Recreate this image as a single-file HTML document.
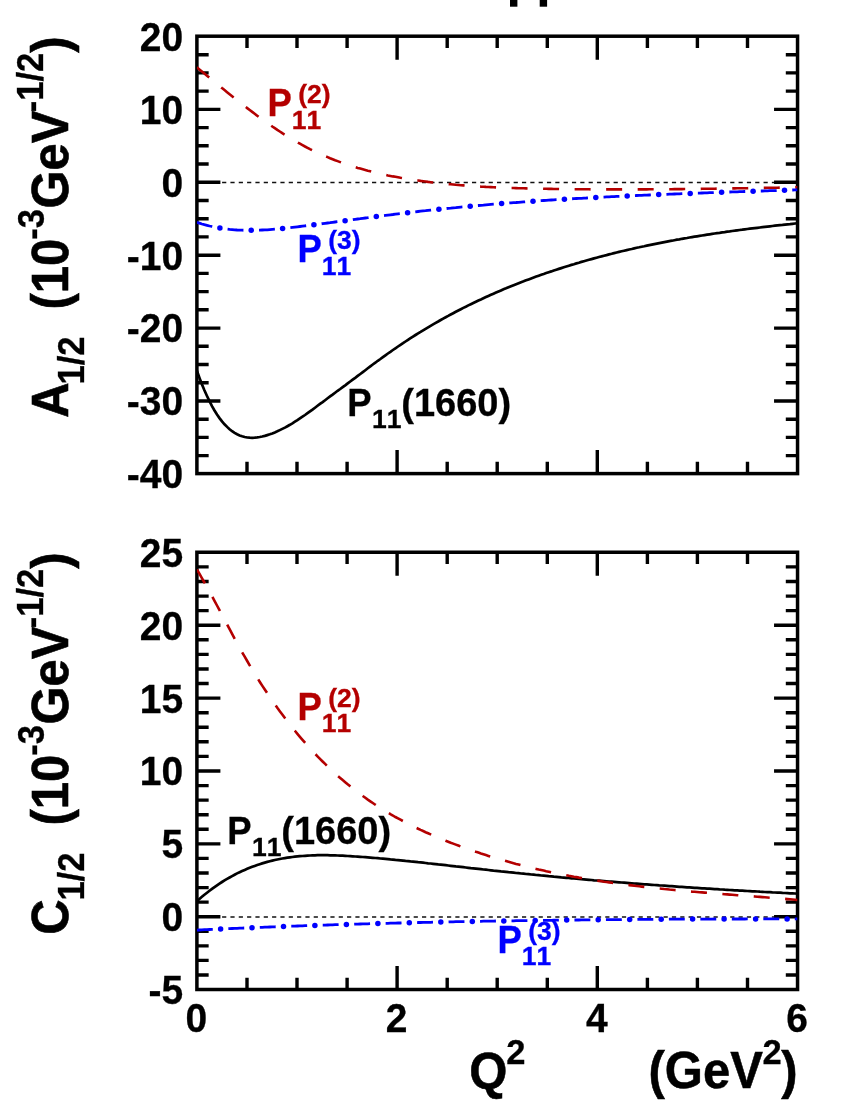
<!DOCTYPE html>
<html><head><meta charset="utf-8"><title>P11 helicity amplitudes</title>
<style>html,body{margin:0;padding:0;background:#fff}svg{display:block;will-change:transform}text{font-family:"Liberation Sans",sans-serif;font-weight:bold;font-kerning:none}</style></head><body>
<svg width="850" height="1100" viewBox="0 0 850 1100">
<rect width="850" height="1100" fill="#fff"/>
<rect x="510" y="0" width="7.4" height="6.7" fill="#000"/>
<rect x="539.7" y="0" width="7.4" height="6.7" fill="#000"/>
<clipPath id="c1"><rect x="196.9" y="36.2" width="600.65" height="437.40000000000003"/></clipPath>
<line x1="196.9" y1="182.4" x2="797.5" y2="182.4" stroke="#111" stroke-width="1.45" stroke-dasharray="4.2 4.13" stroke-dashoffset="-0.2"/>
<path d="M247.0,36.2v11.75M247.0,473.6v-11.75M297.0,36.2v11.75M297.0,473.6v-11.75M347.1,36.2v11.75M347.1,473.6v-11.75M397.1,36.2v23.5M397.1,473.6v-23.5M447.2,36.2v11.75M447.2,473.6v-11.75M497.2,36.2v11.75M497.2,473.6v-11.75M547.3,36.2v11.75M547.3,473.6v-11.75M597.3,36.2v23.5M597.3,473.6v-23.5M647.4,36.2v11.75M647.4,473.6v-11.75M697.4,36.2v11.75M697.4,473.6v-11.75M747.5,36.2v11.75M747.5,473.6v-11.75M196.9,54.7h11.75M797.55,54.7h-11.75M196.9,72.9h11.75M797.55,72.9h-11.75M196.9,91.1h11.75M797.55,91.1h-11.75M196.9,109.4h23.5M797.55,109.4h-23.5M196.9,127.6h11.75M797.55,127.6h-11.75M196.9,145.8h11.75M797.55,145.8h-11.75M196.9,164.0h11.75M797.55,164.0h-11.75M196.9,182.2h23.5M797.55,182.2h-23.5M196.9,200.5h11.75M797.55,200.5h-11.75M196.9,218.7h11.75M797.55,218.7h-11.75M196.9,236.9h11.75M797.55,236.9h-11.75M196.9,255.2h23.5M797.55,255.2h-23.5M196.9,273.4h11.75M797.55,273.4h-11.75M196.9,291.6h11.75M797.55,291.6h-11.75M196.9,309.8h11.75M797.55,309.8h-11.75M196.9,328.1h23.5M797.55,328.1h-23.5M196.9,346.3h11.75M797.55,346.3h-11.75M196.9,364.5h11.75M797.55,364.5h-11.75M196.9,382.7h11.75M797.55,382.7h-11.75M196.9,401.0h23.5M797.55,401.0h-23.5M196.9,419.2h11.75M797.55,419.2h-11.75M196.9,437.4h11.75M797.55,437.4h-11.75M196.9,455.6h11.75M797.55,455.6h-11.75" stroke="#000" stroke-width="3.4" fill="none"/>
<rect x="196.9" y="36.2" width="600.65" height="437.40000000000003" fill="none" stroke="#000" stroke-width="3.5"/>
<path d="M196.9,370.6 L199.4,377.6 L201.9,384.2 L204.4,390.3 L207.0,396.0 L209.5,401.2 L212.0,406.1 L214.5,410.5 L217.0,414.5 L219.5,418.1 L222.0,421.4 L224.5,424.3 L227.1,426.9 L229.6,429.2 L232.1,431.2 L234.6,432.9 L237.1,434.3 L239.6,435.4 L242.1,436.3 L244.7,437.0 L247.2,437.5 L249.7,437.7 L252.2,437.8 L254.7,437.7 L257.2,437.4 L259.7,437.0 L262.2,436.5 L264.8,435.9 L267.3,435.1 L269.8,434.3 L272.3,433.4 L274.8,432.4 L277.3,431.3 L279.8,430.1 L282.3,428.9 L284.9,427.6 L287.4,426.2 L289.9,424.8 L292.4,423.3 L294.9,421.7 L297.4,420.1 L299.9,418.4 L302.5,416.7 L305.0,415.0 L307.5,413.2 L310.0,411.4 L312.5,409.6 L315.0,407.7 L317.5,405.8 L320.0,403.9 L322.6,402.1 L325.1,400.2 L327.6,398.3 L330.1,396.4 L332.6,394.6 L335.1,392.7 L337.6,390.8 L340.2,389.0 L342.7,387.1 L345.2,385.3 L347.7,383.4 L350.2,381.5 L352.7,379.6 L355.2,377.8 L357.7,375.9 L360.3,374.0 L362.8,372.1 L365.3,370.2 L367.8,368.3 L370.3,366.4 L372.8,364.5 L375.3,362.7 L377.8,360.8 L380.4,359.0 L382.9,357.1 L385.4,355.3 L387.9,353.5 L390.4,351.8 L392.9,350.0 L395.4,348.3 L398.0,346.5 L400.5,344.8 L403.0,343.2 L405.5,341.5 L408.0,339.8 L410.5,338.2 L413.0,336.6 L415.5,335.0 L418.1,333.4 L420.6,331.9 L423.1,330.3 L425.6,328.8 L428.1,327.3 L430.6,325.8 L433.1,324.4 L435.7,322.9 L438.2,321.5 L440.7,320.0 L443.2,318.6 L445.7,317.2 L448.2,315.9 L450.7,314.5 L453.2,313.2 L455.8,311.8 L458.3,310.5 L460.8,309.2 L463.3,307.9 L465.8,306.7 L468.3,305.4 L470.8,304.2 L473.3,303.0 L475.9,301.7 L478.4,300.5 L480.9,299.4 L483.4,298.2 L485.9,297.0 L488.4,295.9 L490.9,294.8 L493.5,293.7 L496.0,292.6 L498.5,291.5 L501.0,290.4 L503.5,289.3 L506.0,288.3 L508.5,287.2 L511.0,286.2 L513.6,285.2 L516.1,284.2 L518.6,283.2 L521.1,282.2 L523.6,281.3 L526.1,280.3 L528.6,279.4 L531.2,278.4 L533.7,277.5 L536.2,276.6 L538.7,275.7 L541.2,274.8 L543.7,274.0 L546.2,273.1 L548.7,272.2 L551.3,271.4 L553.8,270.5 L556.3,269.7 L558.8,268.9 L561.3,268.1 L563.8,267.3 L566.3,266.5 L568.9,265.7 L571.4,264.9 L573.9,264.2 L576.4,263.4 L578.9,262.7 L581.4,261.9 L583.9,261.2 L586.4,260.5 L589.0,259.8 L591.5,259.1 L594.0,258.4 L596.5,257.7 L599.0,257.0 L601.5,256.4 L604.0,255.7 L606.5,255.1 L609.1,254.4 L611.6,253.8 L614.1,253.1 L616.6,252.5 L619.1,251.9 L621.6,251.3 L624.1,250.7 L626.7,250.1 L629.2,249.5 L631.7,249.0 L634.2,248.4 L636.7,247.8 L639.2,247.3 L641.7,246.7 L644.2,246.2 L646.8,245.6 L649.3,245.1 L651.8,244.6 L654.3,244.1 L656.8,243.6 L659.3,243.1 L661.8,242.6 L664.4,242.1 L666.9,241.6 L669.4,241.1 L671.9,240.7 L674.4,240.2 L676.9,239.7 L679.4,239.3 L681.9,238.8 L684.5,238.4 L687.0,238.0 L689.5,237.5 L692.0,237.1 L694.5,236.7 L697.0,236.3 L699.5,235.9 L702.0,235.5 L704.6,235.1 L707.1,234.7 L709.6,234.3 L712.1,233.9 L714.6,233.5 L717.1,233.1 L719.6,232.8 L722.2,232.4 L724.7,232.1 L727.2,231.7 L729.7,231.4 L732.2,231.0 L734.7,230.7 L737.2,230.3 L739.7,230.0 L742.3,229.7 L744.8,229.3 L747.3,229.0 L749.8,228.7 L752.3,228.4 L754.8,228.1 L757.3,227.8 L759.9,227.5 L762.4,227.2 L764.9,226.9 L767.4,226.6 L769.9,226.3 L772.4,226.0 L774.9,225.7 L777.4,225.4 L780.0,225.1 L782.5,224.9 L785.0,224.6 L787.5,224.3 L790.0,224.1 L792.5,223.8 L795.0,223.5 L797.5,223.3" fill="none" stroke="#000" stroke-width="2.7" clip-path="url(#c1)"/>
<path d="M196.9,67.3 L199.4,69.4 L201.9,71.5 L204.4,73.6 L207.0,75.7 L209.5,77.8 L212.0,79.8 L214.5,81.9 L217.0,84.0 L219.5,86.0 L222.0,88.1 L224.5,90.1 L227.1,92.2 L229.6,94.2 L232.1,96.2 L234.6,98.2 L237.1,100.2 L239.6,102.2 L242.1,104.2 L244.7,106.2 L247.2,108.1 L249.7,110.0 L252.2,111.9 L254.7,113.8 L257.2,115.7 L259.7,117.6 L262.2,119.4 L264.8,121.2 L267.3,123.0 L269.8,124.7 L272.3,126.5 L274.8,128.2 L277.3,129.9 L279.8,131.5 L282.3,133.2 L284.9,134.8 L287.4,136.4 L289.9,137.9 L292.4,139.4 L294.9,140.9 L297.4,142.3 L299.9,143.7 L302.5,145.1 L305.0,146.5 L307.5,147.8 L310.0,149.1 L312.5,150.3 L315.0,151.5 L317.5,152.7 L320.0,153.9 L322.6,155.0 L325.1,156.1 L327.6,157.1 L330.1,158.2 L332.6,159.2 L335.1,160.2 L337.6,161.1 L340.2,162.1 L342.7,163.0 L345.2,163.8 L347.7,164.7 L350.2,165.5 L352.7,166.3 L355.2,167.1 L357.7,167.9 L360.3,168.6 L362.8,169.3 L365.3,170.0 L367.8,170.7 L370.3,171.3 L372.8,172.0 L375.3,172.6 L377.8,173.2 L380.4,173.7 L382.9,174.3 L385.4,174.8 L387.9,175.4 L390.4,175.9 L392.9,176.4 L395.4,176.8 L398.0,177.3 L400.5,177.8 L403.0,178.2 L405.5,178.6 L408.0,179.0 L410.5,179.4 L413.0,179.8 L415.5,180.2 L418.1,180.5 L420.6,180.9 L423.1,181.2 L425.6,181.5 L428.1,181.9 L430.6,182.2 L433.1,182.5 L435.7,182.8 L438.2,183.0 L440.7,183.3 L443.2,183.6 L445.7,183.8 L448.2,184.1 L450.7,184.3 L453.2,184.5 L455.8,184.8 L458.3,185.0 L460.8,185.2 L463.3,185.4 L465.8,185.6 L468.3,185.8 L470.8,185.9 L473.3,186.1 L475.9,186.3 L478.4,186.4 L480.9,186.6 L483.4,186.7 L485.9,186.9 L488.4,187.0 L490.9,187.1 L493.5,187.2 L496.0,187.4 L498.5,187.5 L501.0,187.6 L503.5,187.7 L506.0,187.8 L508.5,187.9 L511.0,188.0 L513.6,188.0 L516.1,188.1 L518.6,188.2 L521.1,188.3 L523.6,188.3 L526.1,188.4 L528.6,188.5 L531.2,188.5 L533.7,188.6 L536.2,188.6 L538.7,188.7 L541.2,188.7 L543.7,188.8 L546.2,188.8 L548.7,188.9 L551.3,188.9 L553.8,189.0 L556.3,189.0 L558.8,189.0 L561.3,189.1 L563.8,189.1 L566.3,189.1 L568.9,189.2 L571.4,189.2 L573.9,189.2 L576.4,189.2 L578.9,189.3 L581.4,189.3 L583.9,189.3 L586.4,189.3 L589.0,189.3 L591.5,189.4 L594.0,189.4 L596.5,189.4 L599.0,189.4 L601.5,189.4 L604.0,189.4 L606.5,189.4 L609.1,189.4 L611.6,189.4 L614.1,189.4 L616.6,189.4 L619.1,189.4 L621.6,189.4 L624.1,189.4 L626.7,189.4 L629.2,189.4 L631.7,189.4 L634.2,189.4 L636.7,189.4 L639.2,189.4 L641.7,189.4 L644.2,189.4 L646.8,189.4 L649.3,189.3 L651.8,189.3 L654.3,189.3 L656.8,189.3 L659.3,189.3 L661.8,189.3 L664.4,189.2 L666.9,189.2 L669.4,189.2 L671.9,189.2 L674.4,189.1 L676.9,189.1 L679.4,189.1 L681.9,189.1 L684.5,189.0 L687.0,189.0 L689.5,189.0 L692.0,189.0 L694.5,188.9 L697.0,188.9 L699.5,188.9 L702.0,188.8 L704.6,188.8 L707.1,188.8 L709.6,188.7 L712.1,188.7 L714.6,188.7 L717.1,188.6 L719.6,188.6 L722.2,188.6 L724.7,188.5 L727.2,188.5 L729.7,188.4 L732.2,188.4 L734.7,188.4 L737.2,188.3 L739.7,188.3 L742.3,188.2 L744.8,188.2 L747.3,188.2 L749.8,188.1 L752.3,188.1 L754.8,188.0 L757.3,188.0 L759.9,188.0 L762.4,187.9 L764.9,187.9 L767.4,187.8 L769.9,187.8 L772.4,187.7 L774.9,187.7 L777.4,187.7 L780.0,187.6 L782.5,187.6 L785.0,187.5 L787.5,187.5 L790.0,187.4 L792.5,187.4 L795.0,187.4 L797.5,187.3" fill="none" stroke="#b40000" stroke-width="2.6" stroke-dasharray="16.0 15.53" stroke-dashoffset="0" clip-path="url(#c1)"/>
<path d="M196.9,222.4 L199.4,223.2 L201.9,224.0 L204.4,224.7 L207.0,225.3 L209.5,226.0 L212.0,226.5 L214.5,227.1 L217.0,227.6 L219.5,228.0 L222.0,228.4 L224.5,228.8 L227.1,229.1 L229.6,229.4 L232.1,229.6 L234.6,229.8 L237.1,230.0 L239.6,230.1 L242.1,230.2 L244.7,230.3 L247.2,230.3 L249.7,230.4 L252.2,230.3 L254.7,230.3 L257.2,230.2 L259.7,230.2 L262.2,230.0 L264.8,229.9 L267.3,229.8 L269.8,229.6 L272.3,229.4 L274.8,229.2 L277.3,229.0 L279.8,228.7 L282.3,228.5 L284.9,228.2 L287.4,228.0 L289.9,227.7 L292.4,227.4 L294.9,227.1 L297.4,226.8 L299.9,226.5 L302.5,226.2 L305.0,225.9 L307.5,225.6 L310.0,225.3 L312.5,224.9 L315.0,224.6 L317.5,224.3 L320.0,224.0 L322.6,223.6 L325.1,223.3 L327.6,223.0 L330.1,222.7 L332.6,222.3 L335.1,222.0 L337.6,221.7 L340.2,221.3 L342.7,221.0 L345.2,220.7 L347.7,220.3 L350.2,220.0 L352.7,219.7 L355.2,219.3 L357.7,219.0 L360.3,218.7 L362.8,218.3 L365.3,218.0 L367.8,217.7 L370.3,217.3 L372.8,217.0 L375.3,216.7 L377.8,216.4 L380.4,216.0 L382.9,215.7 L385.4,215.4 L387.9,215.1 L390.4,214.8 L392.9,214.5 L395.4,214.1 L398.0,213.8 L400.5,213.5 L403.0,213.2 L405.5,212.9 L408.0,212.6 L410.5,212.3 L413.0,212.1 L415.5,211.8 L418.1,211.5 L420.6,211.2 L423.1,210.9 L425.6,210.7 L428.1,210.4 L430.6,210.1 L433.1,209.8 L435.7,209.6 L438.2,209.3 L440.7,209.1 L443.2,208.8 L445.7,208.6 L448.2,208.3 L450.7,208.1 L453.2,207.8 L455.8,207.6 L458.3,207.3 L460.8,207.1 L463.3,206.9 L465.8,206.6 L468.3,206.4 L470.8,206.2 L473.3,205.9 L475.9,205.7 L478.4,205.5 L480.9,205.3 L483.4,205.1 L485.9,204.8 L488.4,204.6 L490.9,204.4 L493.5,204.2 L496.0,204.0 L498.5,203.8 L501.0,203.6 L503.5,203.4 L506.0,203.2 L508.5,203.0 L511.0,202.8 L513.6,202.6 L516.1,202.5 L518.6,202.3 L521.1,202.1 L523.6,201.9 L526.1,201.7 L528.6,201.5 L531.2,201.4 L533.7,201.2 L536.2,201.0 L538.7,200.9 L541.2,200.7 L543.7,200.5 L546.2,200.4 L548.7,200.2 L551.3,200.0 L553.8,199.9 L556.3,199.7 L558.8,199.6 L561.3,199.4 L563.8,199.3 L566.3,199.1 L568.9,199.0 L571.4,198.8 L573.9,198.7 L576.4,198.5 L578.9,198.4 L581.4,198.3 L583.9,198.1 L586.4,198.0 L589.0,197.8 L591.5,197.7 L594.0,197.6 L596.5,197.4 L599.0,197.3 L601.5,197.2 L604.0,197.1 L606.5,196.9 L609.1,196.8 L611.6,196.7 L614.1,196.6 L616.6,196.4 L619.1,196.3 L621.6,196.2 L624.1,196.1 L626.7,196.0 L629.2,195.9 L631.7,195.7 L634.2,195.6 L636.7,195.5 L639.2,195.4 L641.7,195.3 L644.2,195.2 L646.8,195.1 L649.3,195.0 L651.8,194.9 L654.3,194.8 L656.8,194.7 L659.3,194.6 L661.8,194.5 L664.4,194.4 L666.9,194.3 L669.4,194.2 L671.9,194.1 L674.4,194.0 L676.9,193.9 L679.4,193.8 L681.9,193.7 L684.5,193.6 L687.0,193.5 L689.5,193.4 L692.0,193.3 L694.5,193.2 L697.0,193.1 L699.5,193.1 L702.0,193.0 L704.6,192.9 L707.1,192.8 L709.6,192.7 L712.1,192.6 L714.6,192.5 L717.1,192.4 L719.6,192.4 L722.2,192.3 L724.7,192.2 L727.2,192.1 L729.7,192.0 L732.2,191.9 L734.7,191.9 L737.2,191.8 L739.7,191.7 L742.3,191.6 L744.8,191.5 L747.3,191.4 L749.8,191.4 L752.3,191.3 L754.8,191.2 L757.3,191.1 L759.9,191.0 L762.4,191.0 L764.9,190.9 L767.4,190.8 L769.9,190.7 L772.4,190.6 L774.9,190.6 L777.4,190.5 L780.0,190.4 L782.5,190.3 L785.0,190.2 L787.5,190.2 L790.0,190.1 L792.5,190.0 L795.0,189.9 L797.5,189.8" fill="none" stroke="#0000ff" stroke-width="2.8" stroke-dasharray="15.9 15.58" clip-path="url(#c1)"/>
<g fill="#0000ff"><circle cx="219.9" cy="228.1" r="2.75"/><circle cx="251.2" cy="230.3" r="2.75"/><circle cx="282.6" cy="228.5" r="2.75"/><circle cx="313.9" cy="224.8" r="2.75"/><circle cx="345.1" cy="220.7" r="2.75"/><circle cx="376.3" cy="216.6" r="2.75"/><circle cx="407.6" cy="212.7" r="2.75"/><circle cx="438.9" cy="209.2" r="2.75"/><circle cx="470.2" cy="206.2" r="2.75"/><circle cx="501.6" cy="203.6" r="2.75"/><circle cx="533.0" cy="201.2" r="2.75"/><circle cx="564.4" cy="199.2" r="2.75"/><circle cx="595.8" cy="197.5" r="2.75"/><circle cx="627.2" cy="195.9" r="2.75"/><circle cx="658.7" cy="194.6" r="2.75"/><circle cx="690.2" cy="193.4" r="2.75"/><circle cx="721.6" cy="192.3" r="2.75"/><circle cx="753.1" cy="191.3" r="2.75"/><circle cx="784.5" cy="190.3" r="2.75"/></g>
<clipPath id="c2"><rect x="196.9" y="552.25" width="600.65" height="437.25"/></clipPath>
<line x1="196.9" y1="917.0" x2="797.5" y2="917.0" stroke="#111" stroke-width="1.45" stroke-dasharray="4.2 4.13" stroke-dashoffset="-0.2"/>
<path d="M247.0,552.25v11.75M247.0,989.5v-11.75M297.0,552.25v11.75M297.0,989.5v-11.75M347.1,552.25v11.75M347.1,989.5v-11.75M397.1,552.25v23.5M397.1,989.5v-23.5M447.2,552.25v11.75M447.2,989.5v-11.75M497.2,552.25v11.75M497.2,989.5v-11.75M547.3,552.25v11.75M547.3,989.5v-11.75M597.3,552.25v23.5M597.3,989.5v-23.5M647.4,552.25v11.75M647.4,989.5v-11.75M697.4,552.25v11.75M697.4,989.5v-11.75M747.5,552.25v11.75M747.5,989.5v-11.75M196.9,566.9h11.75M797.55,566.9h-11.75M196.9,581.5h11.75M797.55,581.5h-11.75M196.9,596.1h11.75M797.55,596.1h-11.75M196.9,610.6h11.75M797.55,610.6h-11.75M196.9,625.2h23.5M797.55,625.2h-23.5M196.9,639.8h11.75M797.55,639.8h-11.75M196.9,654.4h11.75M797.55,654.4h-11.75M196.9,669.0h11.75M797.55,669.0h-11.75M196.9,683.5h11.75M797.55,683.5h-11.75M196.9,698.1h23.5M797.55,698.1h-23.5M196.9,712.7h11.75M797.55,712.7h-11.75M196.9,727.2h11.75M797.55,727.2h-11.75M196.9,741.8h11.75M797.55,741.8h-11.75M196.9,756.4h11.75M797.55,756.4h-11.75M196.9,771.0h23.5M797.55,771.0h-23.5M196.9,785.6h11.75M797.55,785.6h-11.75M196.9,800.1h11.75M797.55,800.1h-11.75M196.9,814.7h11.75M797.55,814.7h-11.75M196.9,829.3h11.75M797.55,829.3h-11.75M196.9,843.9h23.5M797.55,843.9h-23.5M196.9,858.4h11.75M797.55,858.4h-11.75M196.9,873.0h11.75M797.55,873.0h-11.75M196.9,887.6h11.75M797.55,887.6h-11.75M196.9,902.1h11.75M797.55,902.1h-11.75M196.9,916.7h23.5M797.55,916.7h-23.5M196.9,931.3h11.75M797.55,931.3h-11.75M196.9,945.9h11.75M797.55,945.9h-11.75M196.9,960.4h11.75M797.55,960.4h-11.75M196.9,975.0h11.75M797.55,975.0h-11.75" stroke="#000" stroke-width="3.4" fill="none"/>
<rect x="196.9" y="552.25" width="600.65" height="437.25" fill="none" stroke="#000" stroke-width="3.5"/>
<path d="M196.9,901.1 L199.4,898.9 L201.9,896.8 L204.4,894.7 L207.0,892.7 L209.5,890.8 L212.0,888.9 L214.5,887.1 L217.0,885.3 L219.5,883.6 L222.0,882.0 L224.5,880.4 L227.1,878.9 L229.6,877.5 L232.1,876.1 L234.6,874.7 L237.1,873.4 L239.6,872.2 L242.1,871.0 L244.7,869.9 L247.2,868.8 L249.7,867.8 L252.2,866.8 L254.7,865.9 L257.2,865.0 L259.7,864.2 L262.2,863.4 L264.8,862.6 L267.3,861.9 L269.8,861.2 L272.3,860.6 L274.8,860.0 L277.3,859.5 L279.8,859.0 L282.3,858.5 L284.9,858.1 L287.4,857.7 L289.9,857.3 L292.4,857.0 L294.9,856.7 L297.4,856.4 L299.9,856.2 L302.5,856.0 L305.0,855.8 L307.5,855.6 L310.0,855.5 L312.5,855.4 L315.0,855.3 L317.5,855.2 L320.0,855.2 L322.6,855.2 L325.1,855.2 L327.6,855.2 L330.1,855.3 L332.6,855.3 L335.1,855.4 L337.6,855.5 L340.2,855.6 L342.7,855.7 L345.2,855.8 L347.7,856.0 L350.2,856.1 L352.7,856.3 L355.2,856.5 L357.7,856.6 L360.3,856.8 L362.8,857.0 L365.3,857.2 L367.8,857.4 L370.3,857.6 L372.8,857.8 L375.3,858.0 L377.8,858.2 L380.4,858.5 L382.9,858.7 L385.4,858.9 L387.9,859.1 L390.4,859.4 L392.9,859.6 L395.4,859.9 L398.0,860.1 L400.5,860.3 L403.0,860.6 L405.5,860.9 L408.0,861.1 L410.5,861.4 L413.0,861.6 L415.5,861.9 L418.1,862.2 L420.6,862.4 L423.1,862.7 L425.6,863.0 L428.1,863.3 L430.6,863.5 L433.1,863.8 L435.7,864.1 L438.2,864.4 L440.7,864.6 L443.2,864.9 L445.7,865.2 L448.2,865.5 L450.7,865.8 L453.2,866.1 L455.8,866.4 L458.3,866.6 L460.8,866.9 L463.3,867.2 L465.8,867.5 L468.3,867.8 L470.8,868.1 L473.3,868.3 L475.9,868.6 L478.4,868.9 L480.9,869.2 L483.4,869.5 L485.9,869.7 L488.4,870.0 L490.9,870.3 L493.5,870.6 L496.0,870.8 L498.5,871.1 L501.0,871.4 L503.5,871.6 L506.0,871.9 L508.5,872.2 L511.0,872.4 L513.6,872.7 L516.1,873.0 L518.6,873.2 L521.1,873.5 L523.6,873.7 L526.1,874.0 L528.6,874.2 L531.2,874.5 L533.7,874.7 L536.2,875.0 L538.7,875.2 L541.2,875.5 L543.7,875.7 L546.2,875.9 L548.7,876.2 L551.3,876.4 L553.8,876.7 L556.3,876.9 L558.8,877.1 L561.3,877.4 L563.8,877.6 L566.3,877.8 L568.9,878.0 L571.4,878.3 L573.9,878.5 L576.4,878.7 L578.9,878.9 L581.4,879.2 L583.9,879.4 L586.4,879.6 L589.0,879.8 L591.5,880.0 L594.0,880.3 L596.5,880.5 L599.0,880.7 L601.5,880.9 L604.0,881.1 L606.5,881.3 L609.1,881.5 L611.6,881.7 L614.1,881.9 L616.6,882.1 L619.1,882.3 L621.6,882.5 L624.1,882.7 L626.7,882.9 L629.2,883.1 L631.7,883.3 L634.2,883.5 L636.7,883.7 L639.2,883.9 L641.7,884.1 L644.2,884.3 L646.8,884.4 L649.3,884.6 L651.8,884.8 L654.3,885.0 L656.8,885.2 L659.3,885.4 L661.8,885.5 L664.4,885.7 L666.9,885.9 L669.4,886.1 L671.9,886.2 L674.4,886.4 L676.9,886.6 L679.4,886.8 L681.9,886.9 L684.5,887.1 L687.0,887.3 L689.5,887.4 L692.0,887.6 L694.5,887.8 L697.0,887.9 L699.5,888.1 L702.0,888.3 L704.6,888.4 L707.1,888.6 L709.6,888.7 L712.1,888.9 L714.6,889.1 L717.1,889.2 L719.6,889.4 L722.2,889.5 L724.7,889.7 L727.2,889.8 L729.7,890.0 L732.2,890.1 L734.7,890.3 L737.2,890.4 L739.7,890.6 L742.3,890.7 L744.8,890.8 L747.3,891.0 L749.8,891.1 L752.3,891.3 L754.8,891.4 L757.3,891.5 L759.9,891.7 L762.4,891.8 L764.9,892.0 L767.4,892.1 L769.9,892.2 L772.4,892.4 L774.9,892.5 L777.4,892.6 L780.0,892.7 L782.5,892.9 L785.0,893.0 L787.5,893.1 L790.0,893.3 L792.5,893.4 L795.0,893.5 L797.5,893.6" fill="none" stroke="#000" stroke-width="2.7" clip-path="url(#c2)"/>
<path d="M196.9,569.5 L199.4,573.7 L201.9,578.1 L204.4,582.5 L207.0,587.0 L209.5,591.5 L212.0,596.1 L214.5,600.8 L217.0,605.5 L219.5,610.2 L222.0,615.0 L224.5,619.7 L227.1,624.5 L229.6,629.2 L232.1,633.9 L234.6,638.6 L237.1,643.2 L239.6,647.8 L242.1,652.3 L244.7,656.7 L247.2,661.0 L249.7,665.3 L252.2,669.5 L254.7,673.7 L257.2,677.7 L259.7,681.7 L262.2,685.6 L264.8,689.5 L267.3,693.3 L269.8,697.0 L272.3,700.7 L274.8,704.2 L277.3,707.8 L279.8,711.2 L282.3,714.6 L284.9,718.0 L287.4,721.3 L289.9,724.5 L292.4,727.7 L294.9,730.8 L297.4,733.8 L299.9,736.8 L302.5,739.8 L305.0,742.7 L307.5,745.5 L310.0,748.3 L312.5,751.0 L315.0,753.7 L317.5,756.3 L320.0,758.9 L322.6,761.5 L325.1,763.9 L327.6,766.4 L330.1,768.8 L332.6,771.1 L335.1,773.4 L337.6,775.7 L340.2,777.9 L342.7,780.1 L345.2,782.2 L347.7,784.3 L350.2,786.3 L352.7,788.3 L355.2,790.3 L357.7,792.2 L360.3,794.1 L362.8,796.0 L365.3,797.8 L367.8,799.6 L370.3,801.3 L372.8,803.0 L375.3,804.7 L377.8,806.3 L380.4,808.0 L382.9,809.5 L385.4,811.1 L387.9,812.6 L390.4,814.1 L392.9,815.5 L395.4,817.0 L398.0,818.4 L400.5,819.7 L403.0,821.1 L405.5,822.4 L408.0,823.7 L410.5,825.0 L413.0,826.2 L415.5,827.5 L418.1,828.7 L420.6,829.9 L423.1,831.0 L425.6,832.2 L428.1,833.3 L430.6,834.4 L433.1,835.5 L435.7,836.6 L438.2,837.6 L440.7,838.7 L443.2,839.7 L445.7,840.7 L448.2,841.7 L450.7,842.7 L453.2,843.6 L455.8,844.6 L458.3,845.5 L460.8,846.5 L463.3,847.4 L465.8,848.3 L468.3,849.2 L470.8,850.1 L473.3,850.9 L475.9,851.8 L478.4,852.6 L480.9,853.5 L483.4,854.3 L485.9,855.1 L488.4,855.9 L490.9,856.7 L493.5,857.4 L496.0,858.2 L498.5,858.9 L501.0,859.7 L503.5,860.4 L506.0,861.1 L508.5,861.8 L511.0,862.5 L513.6,863.2 L516.1,863.9 L518.6,864.5 L521.1,865.2 L523.6,865.8 L526.1,866.5 L528.6,867.1 L531.2,867.7 L533.7,868.3 L536.2,868.9 L538.7,869.5 L541.2,870.0 L543.7,870.6 L546.2,871.2 L548.7,871.7 L551.3,872.2 L553.8,872.8 L556.3,873.3 L558.8,873.8 L561.3,874.3 L563.8,874.8 L566.3,875.3 L568.9,875.8 L571.4,876.2 L573.9,876.7 L576.4,877.1 L578.9,877.6 L581.4,878.0 L583.9,878.5 L586.4,878.9 L589.0,879.3 L591.5,879.7 L594.0,880.1 L596.5,880.5 L599.0,880.9 L601.5,881.3 L604.0,881.7 L606.5,882.0 L609.1,882.4 L611.6,882.7 L614.1,883.1 L616.6,883.4 L619.1,883.8 L621.6,884.1 L624.1,884.4 L626.7,884.8 L629.2,885.1 L631.7,885.4 L634.2,885.7 L636.7,886.0 L639.2,886.3 L641.7,886.6 L644.2,886.9 L646.8,887.1 L649.3,887.4 L651.8,887.7 L654.3,888.0 L656.8,888.2 L659.3,888.5 L661.8,888.7 L664.4,889.0 L666.9,889.2 L669.4,889.5 L671.9,889.7 L674.4,890.0 L676.9,890.2 L679.4,890.4 L681.9,890.7 L684.5,890.9 L687.0,891.1 L689.5,891.3 L692.0,891.6 L694.5,891.8 L697.0,892.0 L699.5,892.2 L702.0,892.4 L704.6,892.6 L707.1,892.8 L709.6,893.0 L712.1,893.2 L714.6,893.4 L717.1,893.6 L719.6,893.8 L722.2,894.0 L724.7,894.2 L727.2,894.4 L729.7,894.6 L732.2,894.8 L734.7,895.0 L737.2,895.2 L739.7,895.4 L742.3,895.6 L744.8,895.8 L747.3,896.0 L749.8,896.1 L752.3,896.3 L754.8,896.5 L757.3,896.7 L759.9,896.9 L762.4,897.1 L764.9,897.3 L767.4,897.5 L769.9,897.7 L772.4,897.9 L774.9,898.1 L777.4,898.3 L780.0,898.5 L782.5,898.7 L785.0,898.9 L787.5,899.1 L790.0,899.3 L792.5,899.5 L795.0,899.7 L797.5,900.0" fill="none" stroke="#b40000" stroke-width="2.6" stroke-dasharray="16.0 15.47" stroke-dashoffset="0" clip-path="url(#c2)"/>
<path d="M196.9,930.1 L199.4,930.0 L201.9,929.9 L204.4,929.7 L207.0,929.6 L209.5,929.5 L212.0,929.4 L214.5,929.3 L217.0,929.2 L219.5,929.1 L222.0,928.9 L224.5,928.8 L227.1,928.7 L229.6,928.6 L232.1,928.5 L234.6,928.4 L237.1,928.3 L239.6,928.2 L242.1,928.1 L244.7,928.0 L247.2,927.9 L249.7,927.8 L252.2,927.7 L254.7,927.6 L257.2,927.5 L259.7,927.4 L262.2,927.3 L264.8,927.2 L267.3,927.1 L269.8,927.0 L272.3,926.9 L274.8,926.8 L277.3,926.7 L279.8,926.6 L282.3,926.5 L284.9,926.4 L287.4,926.3 L289.9,926.2 L292.4,926.2 L294.9,926.1 L297.4,926.0 L299.9,925.9 L302.5,925.8 L305.0,925.7 L307.5,925.6 L310.0,925.6 L312.5,925.5 L315.0,925.4 L317.5,925.3 L320.0,925.2 L322.6,925.1 L325.1,925.1 L327.6,925.0 L330.1,924.9 L332.6,924.8 L335.1,924.7 L337.6,924.7 L340.2,924.6 L342.7,924.5 L345.2,924.4 L347.7,924.4 L350.2,924.3 L352.7,924.2 L355.2,924.1 L357.7,924.1 L360.3,924.0 L362.8,923.9 L365.3,923.9 L367.8,923.8 L370.3,923.7 L372.8,923.7 L375.3,923.6 L377.8,923.5 L380.4,923.5 L382.9,923.4 L385.4,923.3 L387.9,923.3 L390.4,923.2 L392.9,923.1 L395.4,923.1 L398.0,923.0 L400.5,923.0 L403.0,922.9 L405.5,922.8 L408.0,922.8 L410.5,922.7 L413.0,922.7 L415.5,922.6 L418.1,922.5 L420.6,922.5 L423.1,922.4 L425.6,922.4 L428.1,922.3 L430.6,922.3 L433.1,922.2 L435.7,922.2 L438.2,922.1 L440.7,922.1 L443.2,922.0 L445.7,921.9 L448.2,921.9 L450.7,921.8 L453.2,921.8 L455.8,921.7 L458.3,921.7 L460.8,921.7 L463.3,921.6 L465.8,921.6 L468.3,921.5 L470.8,921.5 L473.3,921.4 L475.9,921.4 L478.4,921.3 L480.9,921.3 L483.4,921.2 L485.9,921.2 L488.4,921.2 L490.9,921.1 L493.5,921.1 L496.0,921.0 L498.5,921.0 L501.0,921.0 L503.5,920.9 L506.0,920.9 L508.5,920.8 L511.0,920.8 L513.6,920.8 L516.1,920.7 L518.6,920.7 L521.1,920.7 L523.6,920.6 L526.1,920.6 L528.6,920.6 L531.2,920.5 L533.7,920.5 L536.2,920.5 L538.7,920.4 L541.2,920.4 L543.7,920.4 L546.2,920.3 L548.7,920.3 L551.3,920.3 L553.8,920.2 L556.3,920.2 L558.8,920.2 L561.3,920.1 L563.8,920.1 L566.3,920.1 L568.9,920.1 L571.4,920.0 L573.9,920.0 L576.4,920.0 L578.9,920.0 L581.4,919.9 L583.9,919.9 L586.4,919.9 L589.0,919.8 L591.5,919.8 L594.0,919.8 L596.5,919.8 L599.0,919.8 L601.5,919.7 L604.0,919.7 L606.5,919.7 L609.1,919.7 L611.6,919.6 L614.1,919.6 L616.6,919.6 L619.1,919.6 L621.6,919.6 L624.1,919.5 L626.7,919.5 L629.2,919.5 L631.7,919.5 L634.2,919.5 L636.7,919.5 L639.2,919.4 L641.7,919.4 L644.2,919.4 L646.8,919.4 L649.3,919.4 L651.8,919.3 L654.3,919.3 L656.8,919.3 L659.3,919.3 L661.8,919.3 L664.4,919.3 L666.9,919.3 L669.4,919.2 L671.9,919.2 L674.4,919.2 L676.9,919.2 L679.4,919.2 L681.9,919.2 L684.5,919.2 L687.0,919.2 L689.5,919.1 L692.0,919.1 L694.5,919.1 L697.0,919.1 L699.5,919.1 L702.0,919.1 L704.6,919.1 L707.1,919.1 L709.6,919.1 L712.1,919.1 L714.6,919.0 L717.1,919.0 L719.6,919.0 L722.2,919.0 L724.7,919.0 L727.2,919.0 L729.7,919.0 L732.2,919.0 L734.7,919.0 L737.2,919.0 L739.7,919.0 L742.3,919.0 L744.8,919.0 L747.3,918.9 L749.8,918.9 L752.3,918.9 L754.8,918.9 L757.3,918.9 L759.9,918.9 L762.4,918.9 L764.9,918.9 L767.4,918.9 L769.9,918.9 L772.4,918.9 L774.9,918.9 L777.4,918.9 L780.0,918.9 L782.5,918.9 L785.0,918.9 L787.5,918.9 L790.0,918.9 L792.5,918.9 L795.0,918.9 L797.5,918.9" fill="none" stroke="#0000ff" stroke-width="2.8" stroke-dasharray="15.9 15.58" clip-path="url(#c2)"/>
<g fill="#0000ff"><circle cx="220.6" cy="929.0" r="2.75"/><circle cx="252.0" cy="927.7" r="2.75"/><circle cx="283.5" cy="926.5" r="2.75"/><circle cx="314.9" cy="925.4" r="2.75"/><circle cx="346.4" cy="924.4" r="2.75"/><circle cx="377.9" cy="923.5" r="2.75"/><circle cx="409.3" cy="922.7" r="2.75"/><circle cx="440.8" cy="922.0" r="2.75"/><circle cx="472.3" cy="921.4" r="2.75"/><circle cx="503.8" cy="920.9" r="2.75"/><circle cx="535.2" cy="920.5" r="2.75"/><circle cx="566.7" cy="920.1" r="2.75"/><circle cx="598.2" cy="919.8" r="2.75"/><circle cx="629.7" cy="919.5" r="2.75"/><circle cx="661.2" cy="919.3" r="2.75"/><circle cx="692.6" cy="919.1" r="2.75"/><circle cx="724.1" cy="919.0" r="2.75"/><circle cx="755.6" cy="918.9" r="2.75"/><circle cx="787.1" cy="918.9" r="2.75"/></g>
<g transform="translate(183.20,50.80) scale(1,1.04)" fill="#000" stroke="#000" stroke-width="0.3"><text x="-43.38" y="0" font-size="39">20</text></g>
<g transform="translate(183.20,123.70) scale(1,1.04)" fill="#000" stroke="#000" stroke-width="0.3"><text x="-43.38" y="0" font-size="39">10</text></g>
<g transform="translate(183.20,196.60) scale(1,1.04)" fill="#000" stroke="#000" stroke-width="0.3"><text x="-21.69" y="0" font-size="39">0</text></g>
<g transform="translate(183.20,269.50) scale(1,1.04)" fill="#000" stroke="#000" stroke-width="0.3"><text x="-56.37" y="0" font-size="39">-10</text></g>
<g transform="translate(183.20,342.40) scale(1,1.04)" fill="#000" stroke="#000" stroke-width="0.3"><text x="-56.37" y="0" font-size="39">-20</text></g>
<g transform="translate(183.20,415.30) scale(1,1.04)" fill="#000" stroke="#000" stroke-width="0.3"><text x="-56.37" y="0" font-size="39">-30</text></g>
<g transform="translate(183.20,488.20) scale(1,1.04)" fill="#000" stroke="#000" stroke-width="0.3"><text x="-56.37" y="0" font-size="39">-40</text></g>
<g transform="translate(183.20,566.85) scale(1,1.04)" fill="#000" stroke="#000" stroke-width="0.3"><text x="-43.38" y="0" font-size="39">25</text></g>
<g transform="translate(183.20,639.73) scale(1,1.04)" fill="#000" stroke="#000" stroke-width="0.3"><text x="-43.38" y="0" font-size="39">20</text></g>
<g transform="translate(183.20,712.60) scale(1,1.04)" fill="#000" stroke="#000" stroke-width="0.3"><text x="-43.38" y="0" font-size="39">15</text></g>
<g transform="translate(183.20,785.48) scale(1,1.04)" fill="#000" stroke="#000" stroke-width="0.3"><text x="-43.38" y="0" font-size="39">10</text></g>
<g transform="translate(183.20,858.35) scale(1,1.04)" fill="#000" stroke="#000" stroke-width="0.3"><text x="-21.69" y="0" font-size="39">5</text></g>
<g transform="translate(183.20,931.23) scale(1,1.04)" fill="#000" stroke="#000" stroke-width="0.3"><text x="-21.69" y="0" font-size="39">0</text></g>
<g transform="translate(183.20,1004.10) scale(1,1.04)" fill="#000" stroke="#000" stroke-width="0.3"><text x="-34.68" y="0" font-size="39">-5</text></g>
<g transform="translate(196.40,1032.30) scale(1,1.04)" fill="#000" stroke="#000" stroke-width="0.3"><text x="-10.84" y="0" font-size="39">0</text></g>
<g transform="translate(396.62,1032.30) scale(1,1.04)" fill="#000" stroke="#000" stroke-width="0.3"><text x="-10.84" y="0" font-size="39">2</text></g>
<g transform="translate(596.83,1032.30) scale(1,1.04)" fill="#000" stroke="#000" stroke-width="0.3"><text x="-10.84" y="0" font-size="39">4</text></g>
<g transform="translate(797.05,1032.30) scale(1,1.04)" fill="#000" stroke="#000" stroke-width="0.3"><text x="-10.84" y="0" font-size="39">6</text></g>
<g transform="translate(267.49,116.40) scale(0.96,1.04)" fill="#b40000" stroke="#b40000" stroke-width="0.3"><text x="0.00" y="0" font-size="38">P</text></g>
<g transform="translate(291.77,128.80) scale(1,1.0)" fill="#b40000" stroke="#b40000" stroke-width="0.3"><text x="0" y="0" font-size="26.5">11</text></g>
<g transform="translate(298.18,103.20) scale(1,1.0)" fill="#b40000" stroke="#b40000" stroke-width="0.3"><text x="0" y="0" font-size="26.5">(2)</text></g>
<g transform="translate(297.49,262.40) scale(0.96,1.04)" fill="#0000ff" stroke="#0000ff" stroke-width="0.3"><text x="0.00" y="0" font-size="38">P</text></g>
<g transform="translate(321.77,274.80) scale(1,1.0)" fill="#0000ff" stroke="#0000ff" stroke-width="0.3"><text x="0" y="0" font-size="26.5">11</text></g>
<g transform="translate(328.18,249.20) scale(1,1.0)" fill="#0000ff" stroke="#0000ff" stroke-width="0.3"><text x="0" y="0" font-size="26.5">(3)</text></g>
<g transform="translate(347.29,415.50) scale(0.96,1.04)" fill="#000" stroke="#000" stroke-width="0.3"><text x="0.00" y="0" font-size="38">P</text></g>
<g transform="translate(371.97,427.50) scale(1,1.0)" fill="#000" stroke="#000" stroke-width="0.3"><text x="0" y="0" font-size="26.5">11</text></g>
<g transform="translate(401.24,415.50) scale(1,1.04)" fill="#000" stroke="#000" stroke-width="0.3"><text x="0" y="0" font-size="38">(1660)</text></g>
<g transform="translate(297.49,720.00) scale(0.96,1.04)" fill="#b40000" stroke="#b40000" stroke-width="0.3"><text x="0.00" y="0" font-size="38">P</text></g>
<g transform="translate(321.77,732.40) scale(1,1.0)" fill="#b40000" stroke="#b40000" stroke-width="0.3"><text x="0" y="0" font-size="26.5">11</text></g>
<g transform="translate(328.18,706.80) scale(1,1.0)" fill="#b40000" stroke="#b40000" stroke-width="0.3"><text x="0" y="0" font-size="26.5">(2)</text></g>
<g transform="translate(497.59,952.90) scale(0.96,1.04)" fill="#0000ff" stroke="#0000ff" stroke-width="0.3"><text x="0.00" y="0" font-size="38">P</text></g>
<g transform="translate(521.87,965.30) scale(1,1.0)" fill="#0000ff" stroke="#0000ff" stroke-width="0.3"><text x="0" y="0" font-size="26.5">11</text></g>
<g transform="translate(528.27,939.70) scale(1,1.0)" fill="#0000ff" stroke="#0000ff" stroke-width="0.3"><text x="0" y="0" font-size="26.5">(3)</text></g>
<g transform="translate(227.29,843.80) scale(0.96,1.04)" fill="#000" stroke="#000" stroke-width="0.3"><text x="0.00" y="0" font-size="38">P</text></g>
<g transform="translate(251.97,855.80) scale(1,1.0)" fill="#000" stroke="#000" stroke-width="0.3"><text x="0" y="0" font-size="26.5">11</text></g>
<g transform="translate(281.24,843.80) scale(1,1.04)" fill="#000" stroke="#000" stroke-width="0.3"><text x="0" y="0" font-size="38">(1660)</text></g>
<g transform="translate(469.19,1088.50) scale(1,1.04)" fill="#000" stroke="#000" stroke-width="0.5"><text x="0.00" y="0" font-size="49">Q</text></g>
<g transform="translate(506.33,1063.80) scale(1,1.0)" fill="#000" stroke="#000" stroke-width="0.3"><text x="0.00" y="0" font-size="34.5">2</text></g>
<g transform="translate(648.55,1088.40) scale(1,1.04)" fill="#000" stroke="#000" stroke-width="0.5"><text x="0" y="0" font-size="49">(GeV</text></g>
<g transform="translate(762.53,1063.80) scale(1,1.0)" fill="#000" stroke="#000" stroke-width="0.3"><text x="0.00" y="0" font-size="34.5">2</text></g>
<g transform="translate(781.28,1088.40) scale(1,1.04)" fill="#000" stroke="#000" stroke-width="0.5"><text x="0" y="0" font-size="49">)</text></g>
<g transform="translate(67.60,417.70) rotate(-90) scale(1,1.04)" fill="#000" stroke="#000" stroke-width="0.6"><text x="0.00" y="0" font-size="49">A</text></g>
<g transform="translate(84.40,384.54) rotate(-90) scale(1,1.06)" fill="#000" stroke="#000" stroke-width="0.3"><text x="0" y="0" font-size="34.5">1/2</text></g>
<g transform="translate(67.60,309.45) rotate(-90) scale(1,1.04)" fill="#000" stroke="#000" stroke-width="0.6"><text x="0" y="0" font-size="49">(10</text></g>
<g transform="translate(43.60,239.70) rotate(-90) scale(1,1.06)" fill="#000" stroke="#000" stroke-width="0.3"><text x="0" y="0" font-size="34.5">-3</text></g>
<g transform="translate(67.60,208.50) rotate(-90) scale(1,1.04)" fill="#000" stroke="#000" stroke-width="0.6"><text x="0.00" y="0" font-size="49">GeV</text></g>
<g transform="translate(43.00,112.20) rotate(-90) scale(1,1.06)" fill="#000" stroke="#000" stroke-width="0.3"><text x="0" y="0" font-size="34.5">-1/2</text></g>
<g transform="translate(67.60,52.72) rotate(-90) scale(1,1.04)" fill="#000" stroke="#000" stroke-width="0.6"><text x="0" y="0" font-size="49">)</text></g>
<g transform="translate(67.60,934.80) rotate(-90) scale(1,1.04)" fill="#000" stroke="#000" stroke-width="0.6"><text x="0.00" y="0" font-size="49">C</text></g>
<g transform="translate(84.40,900.59) rotate(-90) scale(1,1.06)" fill="#000" stroke="#000" stroke-width="0.3"><text x="0" y="0" font-size="34.5">1/2</text></g>
<g transform="translate(67.60,825.50) rotate(-90) scale(1,1.04)" fill="#000" stroke="#000" stroke-width="0.6"><text x="0" y="0" font-size="49">(10</text></g>
<g transform="translate(43.60,755.75) rotate(-90) scale(1,1.06)" fill="#000" stroke="#000" stroke-width="0.3"><text x="0" y="0" font-size="34.5">-3</text></g>
<g transform="translate(67.60,724.55) rotate(-90) scale(1,1.04)" fill="#000" stroke="#000" stroke-width="0.6"><text x="0.00" y="0" font-size="49">GeV</text></g>
<g transform="translate(43.00,628.25) rotate(-90) scale(1,1.06)" fill="#000" stroke="#000" stroke-width="0.3"><text x="0" y="0" font-size="34.5">-1/2</text></g>
<g transform="translate(67.60,568.77) rotate(-90) scale(1,1.04)" fill="#000" stroke="#000" stroke-width="0.6"><text x="0" y="0" font-size="49">)</text></g>
</svg></body></html>
